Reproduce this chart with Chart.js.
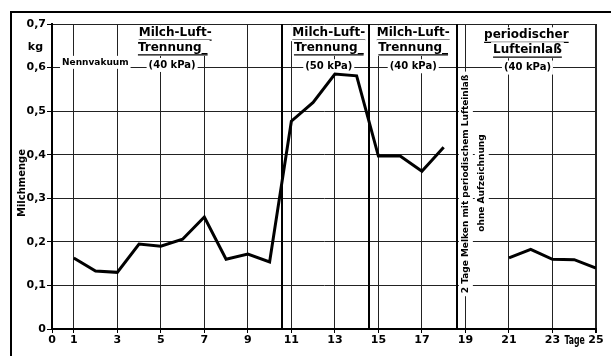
<!DOCTYPE html>
<html>
<head>
<meta charset="utf-8">
<script src="https://cdn.jsdelivr.net/npm/chart.js@4/dist/chart.umd.min.js"></script>
<style>
    html, body { margin: 0; padding: 0; background: #fff; }
    #wrap { width: 611px; height: 356px; }
</style>
</head>
<body>
<div id="wrap"><canvas id="milkChart"></canvas></div>
<script>
// ── data ───────────────────────────────────────────────────────
const days   = [1, 2, 3, 4, 5, 6, 7, 8, 9, 10, 11, 12, 13, 14, 15, 16, 17, 18, 19, 20, 21, 22, 23, 24, 25];
const milkKg = [0.163, 0.133, 0.130, 0.195, 0.190, 0.206, 0.257, 0.160, 0.172, 0.154,
                0.477, 0.520, 0.585, 0.581, 0.397, 0.397, 0.362, 0.417, null, null,
                0.163, 0.183, 0.160, 0.159, 0.140];
const xTicks     = [0, 1, 3, 5, 7, 9, 11, 13, 15, 17, 19, 21, 23, 25];
const separators = [10.57, 14.56, 18.59];

const FONT = '"DejaVu Sans", Verdana, sans-serif';

// section captions: [day, value, text, size, underline, align]
const captions = [
    [0.46,  0.612, 'Nennvakuum',   9,  false, 'left'],
    [5.66,  0.679, 'Milch-Luft-',  12, true],
    [5.55,  0.645, 'Trennung_',    12, true],
    [5.52,  0.606, '(40 kPa)',     10, false],
    [12.72, 0.679, 'Milch-Luft-',  12, true],
    [12.72, 0.645, 'Trennung_',    12, true],
    [12.72, 0.603, '(50 kPa)',     10, false],
    [16.6,  0.679, 'Milch-Luft-',  12, true],
    [16.6,  0.645, 'Trennung_',    12, true],
    [16.6,  0.603, '(40 kPa)',     10, false],
    [21.8,  0.674, 'periodischer', 12, true],
    [21.85, 0.640, 'Lufteinlaß',   12, true],
    [21.85, 0.600, '(40 kPa)',     10, false],
];
const sideNotes = [
    [19.02, 0.333, '2 Tage Melken mit periodischem Lufteinlaß'],
    [19.75, 0.335, 'ohne Aufzeichnung'],
];

const sheetPlugin = {
    id: 'sheet',
    beforeDatasetsDraw(chart) {
        const { ctx, chartArea: a, scales: { x, y } } = chart;
        ctx.save();

        // thick section separators
        ctx.strokeStyle = '#000';
        ctx.lineWidth = 2;
        separators.forEach(d => {
            const px = Math.round(x.getPixelForValue(d));
            ctx.beginPath();
            ctx.moveTo(px, a.top);
            ctx.lineTo(px, a.bottom);
            ctx.stroke();
        });

        ctx.textBaseline = 'middle';
        captions.forEach(([d, v, txt, size, underline, align]) => {
            ctx.font = `bold ${size}px ${FONT}`;
            const w  = ctx.measureText(txt).width;
            const px = x.getPixelForValue(d);
            const py = y.getPixelForValue(v);
            const left = align === 'left' ? px : px - w / 2;
            ctx.fillStyle = '#fff';
            ctx.fillRect(left - 2, py - size / 2 - 2, w + 4, size + 4);
            ctx.fillStyle = '#000';
            ctx.textAlign = 'left';
            ctx.fillText(txt, left, py);
            if (underline) {
                ctx.lineWidth = 1.3;
                ctx.beginPath();
                ctx.moveTo(left, py + size / 2 + 1);
                ctx.lineTo(left + w, py + size / 2 + 1);
                ctx.stroke();
            }
        });

        // rotated note in the gap without records
        ctx.font = `bold 9px ${FONT}`;
        sideNotes.forEach(([d, v, txt]) => {
            const w = ctx.measureText(txt).width;
            ctx.save();
            ctx.translate(x.getPixelForValue(d), y.getPixelForValue(v));
            ctx.rotate(-Math.PI / 2);
            ctx.fillStyle = '#fff';
            ctx.fillRect(-w / 2 - 3, -7, w + 6, 14);
            ctx.fillStyle = '#000';
            ctx.textAlign = 'center';
            ctx.fillText(txt, 0, 0);
            ctx.restore();
        });
        ctx.restore();
    },
    afterDraw(chart) {
        const { ctx, chartArea: a, scales: { x, y } } = chart;
        ctx.save();
        ctx.fillStyle = '#000';
        ctx.textBaseline = 'middle';

        ctx.font = `bold 11px ${FONT}`;
        ctx.textAlign = 'right';
        ctx.fillText('kg', a.left - 9, y.getPixelForValue(0.647));

        // "Tage" squeezed between 23 and 25
        ctx.save();
        ctx.font = `bold 13px ${FONT}`;
        ctx.textAlign = 'center';
        ctx.translate(x.getPixelForValue(24.02), a.bottom + 12);
        ctx.scale(0.6, 1);
        ctx.fillText('Tage', 0, 0);
        ctx.restore();

        ctx.save();
        ctx.font = `bold 10px ${FONT}`;
        ctx.textAlign = 'center';
        ctx.translate(22, 183);
        ctx.rotate(-Math.PI / 2);
        ctx.fillText('Milchmenge', 0, 0);
        ctx.restore();

        // outer frame of the figure (right and bottom run off the scan)
        ctx.strokeStyle = '#000';
        ctx.lineWidth = 2;
        ctx.beginPath();
        ctx.moveTo(11, 356);
        ctx.lineTo(11, 12);
        ctx.lineTo(611, 12);
        ctx.stroke();
        ctx.restore();
    },
};

new Chart(document.getElementById('milkChart'), {
    type: 'line',
    data: {
        datasets: [{
            data: days.map((d, i) => ({ x: d, y: milkKg[i] })),
            borderColor: '#000',
            borderWidth: 3,
            pointRadius: 0,
            tension: 0,
            spanGaps: false,
        }],
    },
    options: {
        responsive: true,
        maintainAspectRatio: false,
        animation: false,
        layout: { padding: { top: 24, right: 15, left: 0, bottom: 0 } },
        plugins: { legend: { display: false }, tooltip: { enabled: false } },
        scales: {
            x: {
                type: 'linear', min: 0, max: 25,
                afterFit: s => { s.height = 27; },
                afterBuildTicks: s => { s.ticks = xTicks.map(v => ({ value: v })); },
                border: { display: true, color: '#000', width: 2 },
                grid: {
                    color: c => (c.tick && c.tick.value === 0 ? 'rgba(0,0,0,0)' : '#222'),
                    lineWidth: c => (c.tick && c.tick.value === 25 ? 2 : 1),
                    tickLength: 4,
                    tickColor: '#000',
                },
                ticks: {
                    color: '#000', padding: 1, maxRotation: 0, autoSkip: false,
                    font: { family: FONT, size: 11, weight: 'bold' },
                },
            },
            y: {
                min: 0, max: 0.7,
                afterFit: s => { s.width = 52; },
                border: { display: true, color: '#000', width: 2 },
                grid: { color: '#222', lineWidth: 1, tickLength: 5, tickColor: '#000' },
                ticks: {
                    stepSize: 0.1, color: '#000', padding: 1,
                    font: { family: FONT, size: 11, weight: 'bold' },
                    callback: v => (v === 0 ? '0' : v.toFixed(1).replace('.', ',')),
                },
            },
        },
    },
    plugins: [sheetPlugin],
});
</script>
</body>
</html>
